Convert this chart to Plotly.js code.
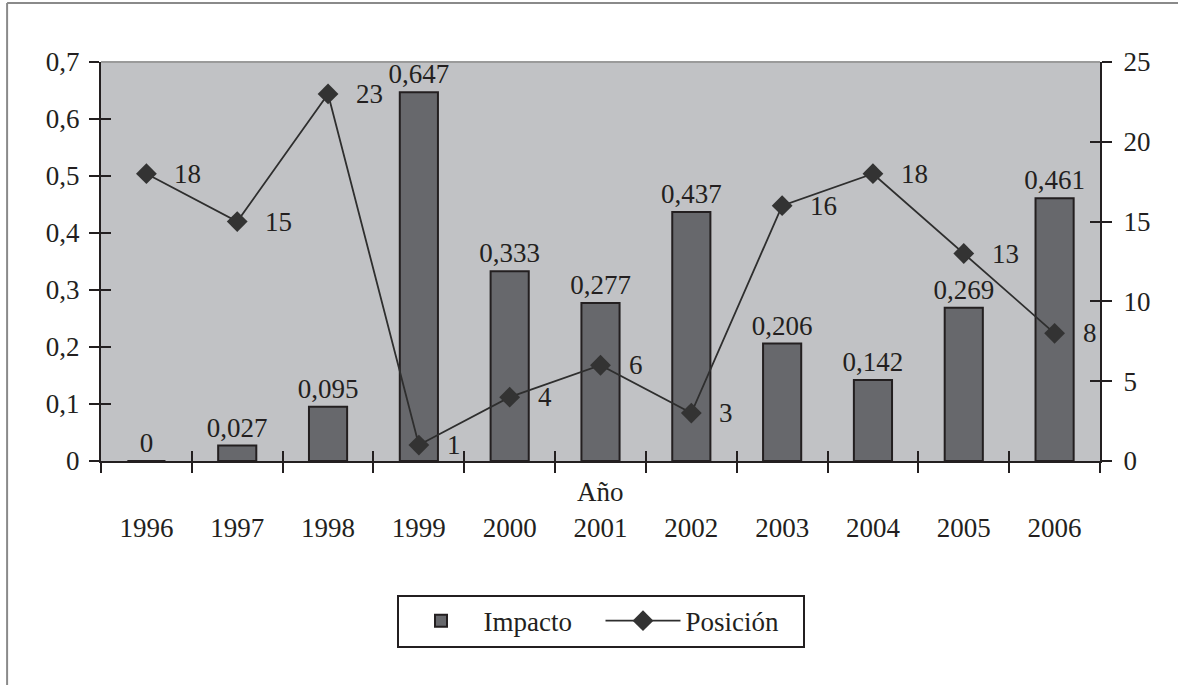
<!DOCTYPE html>
<html>
<head>
<meta charset="utf-8">
<script src="https://cdn.plot.ly/plotly-3.0.1.min.js"></script>
<style>html,body{margin:0;padding:0;background:#fff;}</style>
</head>
<body>
<div id="chart" style="width:1178px;height:685px;"></div>
<script>
var years = ['1996','1997','1998','1999','2000','2001','2002','2003','2004','2005','2006'];
var impacto = [0, 0.027, 0.095, 0.647, 0.333, 0.277, 0.437, 0.206, 0.142, 0.269, 0.461];
var posicion = [18, 15, 23, 1, 4, 6, 3, 16, 18, 13, 8];
var leftTicks = [0, 0.1, 0.2, 0.3, 0.4, 0.5, 0.6, 0.7];
var rightTicks = [0, 5, 10, 15, 20, 25];

function fmt(v){ return String(v).replace('.', ','); }

var FONT = 'Liberation Serif, Times New Roman, serif';
var INK = '#231f20';

var idx = years.map(function(_, i){ return i; });
var boundaries = [-0.5].concat(idx.map(function(i){ return i + 0.5; }));

var bars = {
  type: 'bar', name: 'Impacto', x: idx, y: impacto,
  xaxis: 'x', yaxis: 'y',
  marker: {color: '#67686c', line: {color: INK, width: 2}},
  text: impacto.map(fmt), textposition: 'outside', cliponaxis: false,
  constraintext: 'none',
  textfont: {family: FONT, size: 27, color: INK},
  hoverinfo: 'skip'
};
var line = {
  type: 'scatter', mode: 'lines+markers', name: 'Posición', x: idx, y: posicion,
  xaxis: 'x', yaxis: 'y2',
  line: {color: '#2e2e2e', width: 1.8},
  marker: {symbol: 'diamond', size: 16, color: '#333'},
  cliponaxis: false, hoverinfo: 'skip'
};
// invisible copies that only carry the inside half of the crossing tick marks
var ghostLeft = {type: 'scatter', mode: 'markers', x: idx, y: impacto,
  xaxis: 'x', yaxis: 'y3', marker: {opacity: 0}, showlegend: false, hoverinfo: 'skip'};
var ghostRight = {type: 'scatter', mode: 'markers', x: idx, y: posicion,
  xaxis: 'x', yaxis: 'y4', marker: {opacity: 0}, showlegend: false, hoverinfo: 'skip'};
var ghostBottom = {type: 'scatter', mode: 'markers', x: idx, y: impacto,
  xaxis: 'x3', yaxis: 'y', marker: {opacity: 0}, showlegend: false, hoverinfo: 'skip'};

var annotations = idx.map(function(i){
  return {x: i, y: posicion[i], xref: 'x', yref: 'y2', text: String(posicion[i]),
    showarrow: false, xanchor: 'left', yanchor: 'middle', xshift: 26,
    font: {family: FONT, size: 27, color: INK}};
});
annotations.push({x: 0.5, y: -0.078, xref: 'paper', yref: 'paper', text: 'Año',
  showarrow: false, xanchor: 'center', yanchor: 'middle',
  font: {family: FONT, size: 27, color: INK}});

function ax(extra){
  return Object.assign({showgrid: false, zeroline: false, linecolor: INK, linewidth: 2,
    tickcolor: INK, tickwidth: 2, ticklen: 10,
    tickfont: {family: FONT, size: 27, color: INK}}, extra);
}

var layout = {
  width: 1178, height: 685,
  margin: {l: 101, r: 78, t: 62, b: 224},
  paper_bgcolor: '#ffffff', plot_bgcolor: '#c1c2c5',
  font: {family: FONT, size: 27, color: INK},
  bargap: 0.58,
  showlegend: true,
  legend: {orientation: 'h', x: 0.5, xanchor: 'center', y: -0.335, yanchor: 'top',
    bordercolor: INK, borderwidth: 2, bgcolor: '#fff', itemwidth: 75, entrywidth: 112,
    font: {family: FONT, size: 27, color: INK}},
  xaxis: ax({type: 'linear', range: [-0.5, 10.5], showline: true, ticks: '',
    tickvals: idx, ticktext: years, ticklabelstandoff: 42,
    minor: {tickvals: boundaries, ticks: 'outside', ticklen: 10, tickwidth: 2, tickcolor: INK}}),
  xaxis3: ax({type: 'linear', overlaying: 'x', anchor: 'y', side: 'bottom',
    range: [-0.5, 10.5], showline: false, ticks: 'inside', tickvals: boundaries,
    showticklabels: false}),
  yaxis: ax({range: [0, 0.7], showline: true, ticks: 'outside',
    tickvals: leftTicks, ticktext: leftTicks.map(fmt), ticklabelstandoff: 4}),
  yaxis3: ax({range: [0, 0.7], overlaying: 'y', side: 'left', anchor: 'x',
    showline: false, ticks: 'inside', tickvals: leftTicks, showticklabels: false}),
  yaxis2: ax({range: [0, 25], overlaying: 'y', side: 'right', anchor: 'x',
    showline: true, ticks: 'outside', tickvals: rightTicks, ticklabelstandoff: 6}),
  yaxis4: ax({range: [0, 25], overlaying: 'y', side: 'right', anchor: 'x',
    showline: false, ticks: 'inside', tickvals: rightTicks, showticklabels: false}),
  annotations: annotations,
  shapes: [
    {type: 'line', xref: 'paper', yref: 'paper', x0: 0, x1: 1, y0: 1, y1: 1,
      line: {color: '#9a9a9a', width: 2}},
    {type: 'line', xref: 'paper', yref: 'paper', x0: -0.094, x1: -0.094, y0: 1.148, y1: -0.6,
      line: {color: '#8a8a8a', width: 2}},
    {type: 'line', xref: 'paper', yref: 'paper', x0: -0.094, x1: 1.1, y0: 1.148, y1: 1.148,
      line: {color: '#8a8a8a', width: 2}}
  ]
};

Plotly.newPlot('chart', [bars, line, ghostLeft, ghostRight, ghostBottom], layout,
  {displayModeBar: false, staticPlot: true});
</script>
</body>
</html>
